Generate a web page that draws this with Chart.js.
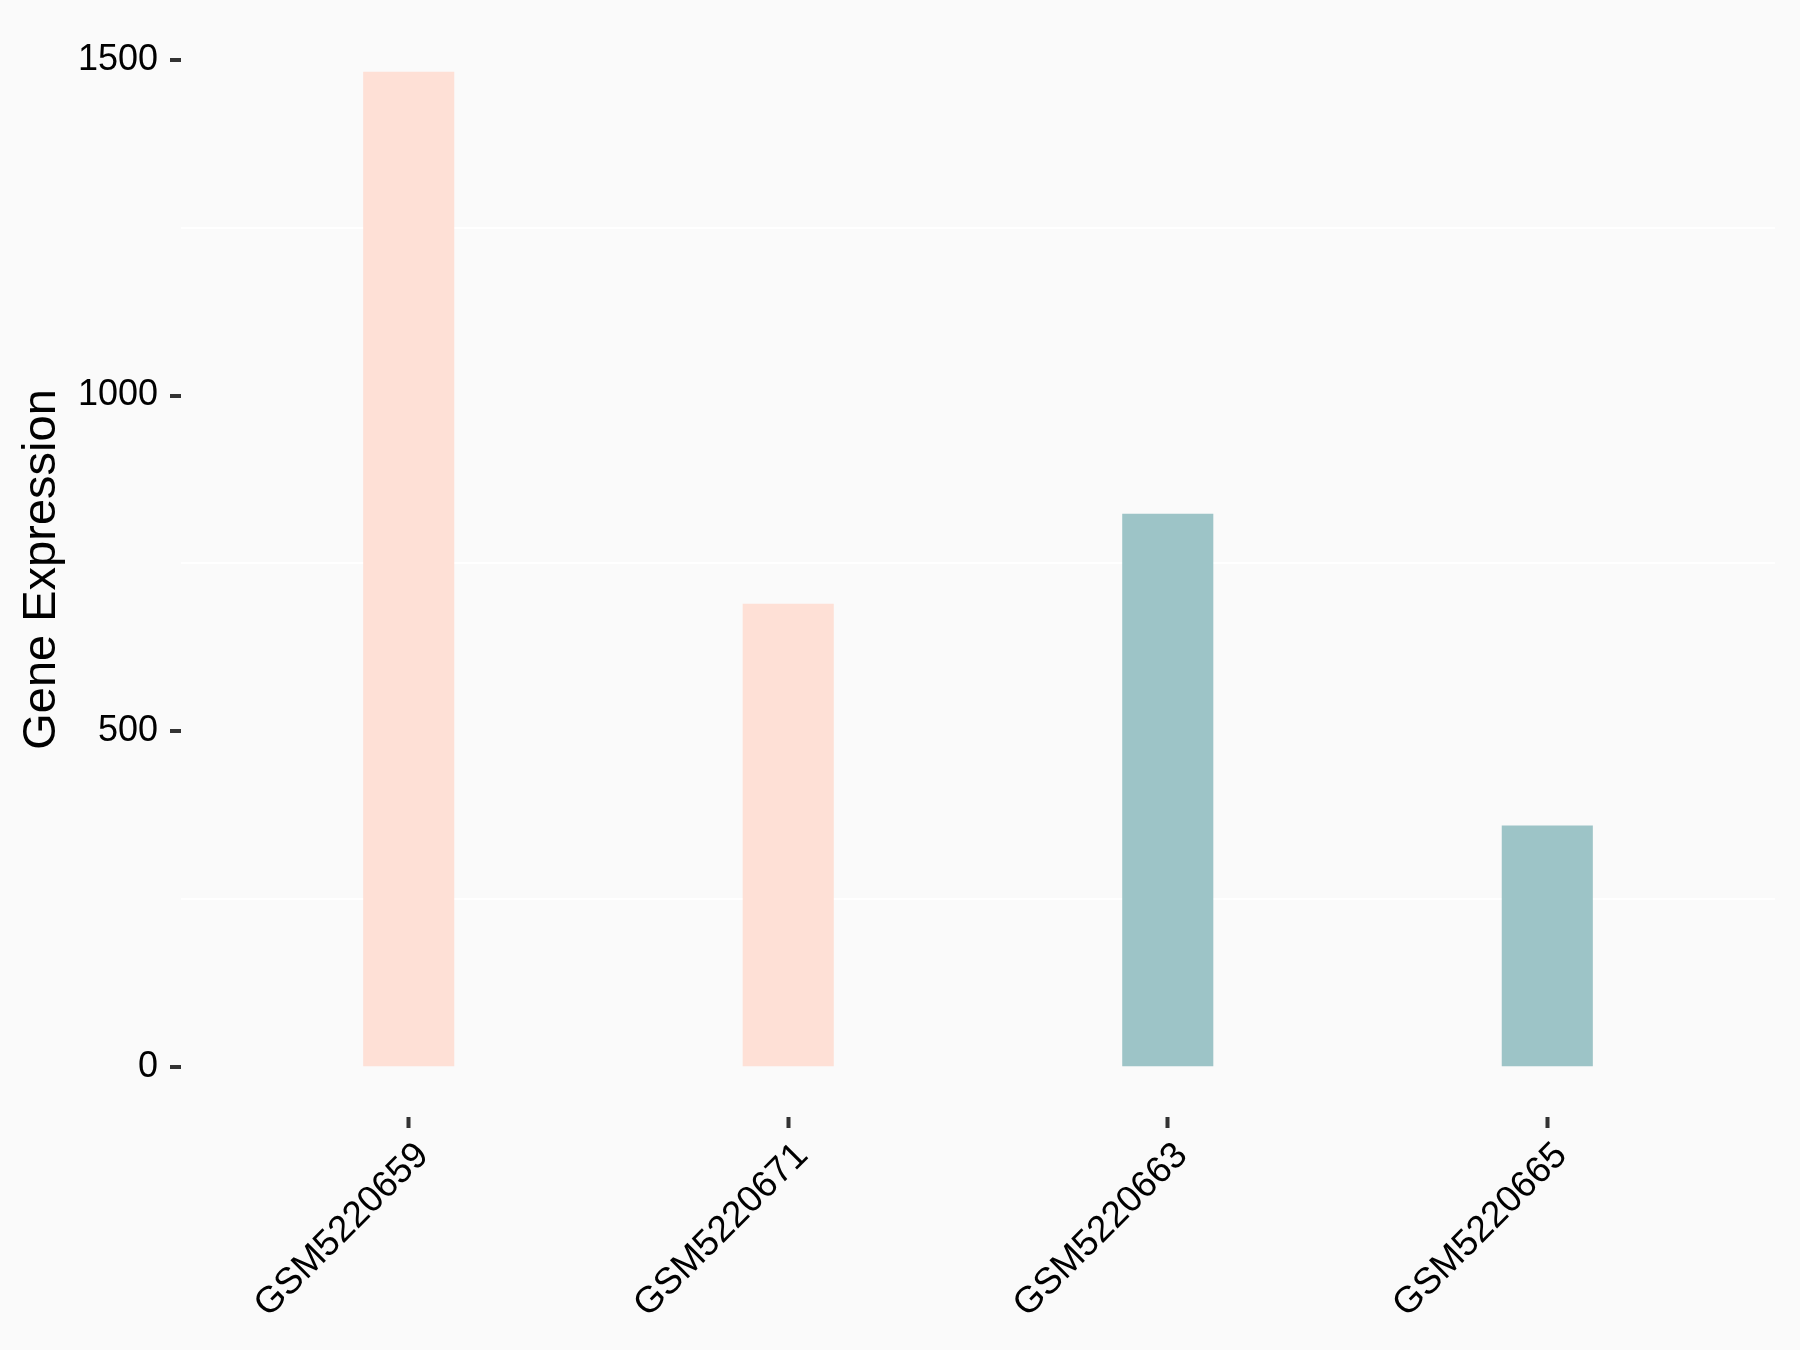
<!DOCTYPE html>
<html>
<head>
<meta charset="utf-8">
<script src="https://cdn.jsdelivr.net/npm/chart.js@4/dist/chart.umd.min.js"></script>
<style>
  html, body { margin: 0; padding: 0; background: #FAFAFA; }
  #wrap { width: 1800px; height: 1350px; }
</style>
</head>
<body>
<div id="wrap"><canvas id="expr" width="1800" height="1350"></canvas></div>
<script>
// values
const samples = ['GSM5220659', 'GSM5220671', 'GSM5220663', 'GSM5220665'];
const expression = [1482, 690, 824, 360];
const sampleGroup = [0, 0, 1, 1];
const yTicks = [0, 250, 500, 750, 1000, 1250, 1500];
const yLabelled = [0, 500, 1000, 1500];

const groupColors = ['#FEE0D6', '#9DC4C7'];

// paint the panel background like ggplot
const bgPlugin = {
    id: 'bg',
    beforeDraw(chart) {
        const c = chart.ctx;
        c.save();
        c.fillStyle = '#FAFAFA';
        c.fillRect(0, 0, chart.width, chart.height);
        c.restore();
    }
};

const points = samples.map(function (s, i) {
    return {x: i + 1, y: expression[i]};
});

new Chart(document.getElementById('expr'), {
    type: 'bar',
    data: {
        datasets: [{
            data: points,
            backgroundColor: sampleGroup.map(g => groupColors[g]),
            borderWidth: 0,
            barPercentage: 0.24,
            categoryPercentage: 1
        }]
    },
    options: {
        responsive: false,
        devicePixelRatio: 1,
        animation: false,
        layout: {padding: {top: 22, right: 25, left: 0, bottom: 0}},
        plugins: {legend: {display: false}, tooltip: {enabled: false}},
        scales: {
            x: {
                type: 'linear',
                min: 0.4,
                max: 4.6,
                offset: false,
                afterBuildTicks: function (scale) {
                    scale.ticks = samples.map((s, i) => ({value: i + 1}));
                },
                afterFit: function (scale) {
                    scale.height = 233;
                    scale.paddingLeft = 0;
                    scale.paddingRight = 0;
                },
                border: {display: false},
                grid: {
                    offset: false,
                    drawOnChartArea: false,
                    drawTicks: true,
                    tickLength: 11,
                    tickWidth: 4,
                    tickColor: '#333333'
                },
                ticks: {
                    autoSkip: false,
                    minRotation: 45,
                    maxRotation: 45,
                    padding: 6,
                    labelOffset: 14,
                    color: '#000000',
                    font: {family: '"Liberation Sans", Arial, sans-serif', size: 37},
                    callback: function (v) {
                        return samples[v - 1] || '';
                    }
                }
            },
            y: {
                type: 'linear',
                min: -74,
                max: 1556,
                afterBuildTicks: function (scale) {
                    scale.ticks = yTicks.map(v => ({value: v}));
                },
                afterFit: function (scale) {
                    scale.width = 181;
                    scale.paddingTop = 0;
                    scale.paddingBottom = 0;
                },
                border: {display: false},
                grid: {
                    color: ctx => (ctx.tick && yLabelled.indexOf(ctx.tick.value) < 0) ? '#FFFFFF' : 'rgba(0,0,0,0)',
                    lineWidth: 2,
                    drawTicks: true,
                    tickLength: 11,
                    tickWidth: 4,
                    tickColor: ctx => (ctx.tick && yLabelled.indexOf(ctx.tick.value) >= 0) ? '#333333' : 'rgba(0,0,0,0)'
                },
                ticks: {
                    autoSkip: false,
                    padding: 12,
                    color: '#000000',
                    font: {family: '"Liberation Sans", Arial, sans-serif', size: 36},
                    callback: function (v) {
                        return yLabelled.indexOf(v) >= 0 ? String(v) : '';
                    }
                },
                title: {
                    display: true,
                    text: 'Gene Expression',
                    color: '#000000',
                    padding: {top: 19, bottom: 0},
                    font: {family: '"Liberation Sans", Arial, sans-serif', size: 47, lineHeight: 1}
                }
            }
        }
    },
    plugins: [bgPlugin]
});
</script>
</body>
</html>
